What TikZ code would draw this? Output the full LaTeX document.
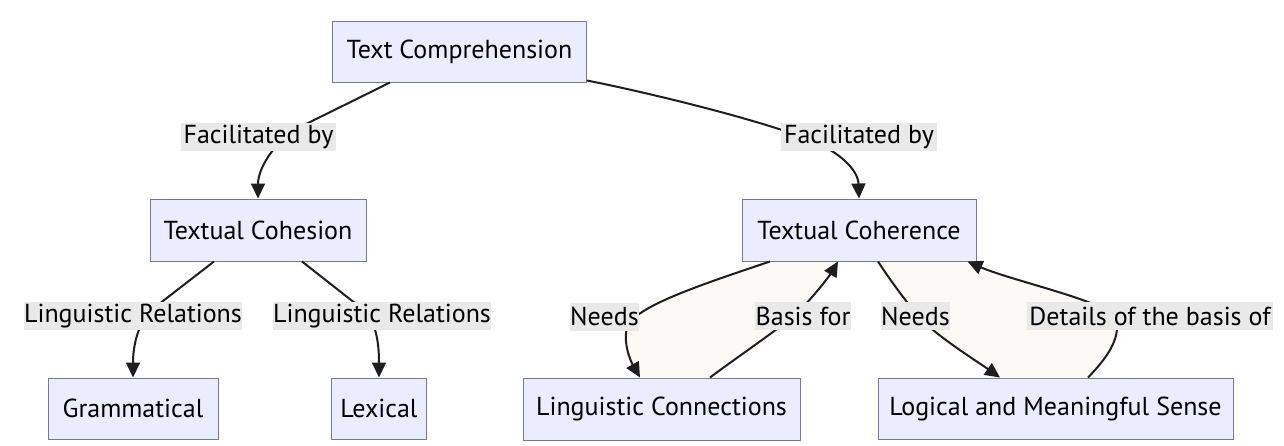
\documentclass[tikz,border=0pt]{standalone}
\usepackage{fontspec}
\setmainfont{PT Sans}
\usetikzlibrary{arrows.meta}
\definecolor{boxfill}{RGB}{236,236,255}
\definecolor{boxline}{RGB}{120,120,140}
\definecolor{lblfill}{RGB}{233,233,233}
\definecolor{edgec}{RGB}{30,30,30}
\definecolor{loopfill}{RGB}{251,249,245}
\tikzset{
  box/.style={draw=boxline, line width=1pt, fill=boxfill, rectangle, inner sep=0pt,
    font=\fontsize{26}{30}\selectfont, text=black},
  lbl/.style={fill=lblfill, rectangle, inner sep=0pt, minimum height=28pt,
    font=\fontsize{26}{30}\selectfont, text=black},
  edge/.style={draw=edgec, line width=2pt},
  arr/.style={edge, -{Triangle[length=15pt,width=14pt]}},
}
\begin{document}
\begin{tikzpicture}[x=1pt,y=-1pt]
\useasboundingbox (0,0) rectangle (1284,445);
\fill[white] (0,0) rectangle (1284,445);
% nodes
\node[box, minimum width=254pt, minimum height=61pt] (tc) at (459.5,51.5) {Text Comprehension};
\node[box, minimum width=216pt, minimum height=62pt] (coh) at (258,230) {Textual Cohesion};
\node[box, minimum width=234pt, minimum height=62pt] (cor) at (859,230) {Textual Coherence};
\node[box, minimum width=170pt, minimum height=61pt] (gram) at (133,408.5) {Grammatical};
\node[box, minimum width=95pt, minimum height=61pt] (lex) at (379,408.5) {Lexical};
\node[box, minimum width=277pt, minimum height=62pt] (lc) at (661.5,409) {Linguistic Connections};
\node[box, minimum width=355pt, minimum height=61pt] (lms) at (1055.5,408.5) {Logical and Meaningful Sense};
% loop fills
\fill[loopfill] (770,262) .. controls (700,285) and (640,305) .. (628,325) .. controls (622,340) and (630,360) .. (640,378) -- (710,378) .. controls (740,355) and (785,325) .. (800,310) .. controls (815,295) and (830,275) .. (838,262) -- cycle;
\fill[loopfill] (878,262) .. controls (890,280) and (905,300) .. (918,316) .. controls (935,335) and (975,360) .. (1000,378) -- (1088,378) .. controls (1110,355) and (1122,335) .. (1115,316) .. controls (1100,300) and (1010,280) .. (967,262) -- cycle;
% edges
\draw[arr] ([xshift=-69.5pt]tc.south) -- (300,127) .. controls (272,143) and (258,170) .. (coh.north);
\draw[arr] ([yshift=2pt]tc.south east) .. controls (650,93) and (760,120) .. (810,140) .. controls (840,152) and (858,170) .. (cor.north);
\draw[arr] ([xshift=-44pt]coh.south) -- (150,311) .. controls (138,325) and (133,345) .. (gram.north);
\draw[arr] ([xshift=44pt]coh.south) -- (365,311) .. controls (378,325) and (379,350) .. (lex.north);
\draw[arr] ([xshift=-89pt]cor.south) .. controls (700,285) and (640,305) .. (628,325) .. controls (622,340) and (630,360) .. ([xshift=-21.5pt]lc.north);
\draw[arr] ([xshift=48.5pt]lc.north) .. controls (740,355) and (785,325) .. (800,310) .. controls (815,295) and (830,275) .. ([xshift=-21pt]cor.south);
\draw[arr] ([xshift=19pt]cor.south) .. controls (890,280) and (905,300) .. (918,316) .. controls (935,335) and (975,360) .. ([xshift=-55.5pt]lms.north);
\draw[arr] ([xshift=32.5pt]lms.north) .. controls (1110,355) and (1122,335) .. (1115,316) .. controls (1100,300) and (1010,280) .. ([xshift=-9pt]cor.south east);
% labels
\node[lbl, minimum width=155pt] (l1) at (258.5,136.5) {Facilitated by};
\node[lbl, minimum width=156pt] (l2) at (859,137) {Facilitated by};
\node[lbl, minimum width=218pt] (l3) at (133,316) {Linguistic Relations};
\node[lbl, minimum width=218pt] (l4) at (382,316) {Linguistic Relations};
\node[lbl, minimum width=67pt] (l5) at (604.5,316.5) {Needs};
\node[lbl, minimum width=96pt] (l6) at (803,316) {Basis for};
\node[lbl, minimum width=67pt] (l7) at (915.5,316) {Needs};
\node[lbl, minimum width=246pt] (l8) at (1150,316) {Details of the basis of};
\end{tikzpicture}
\end{document}
